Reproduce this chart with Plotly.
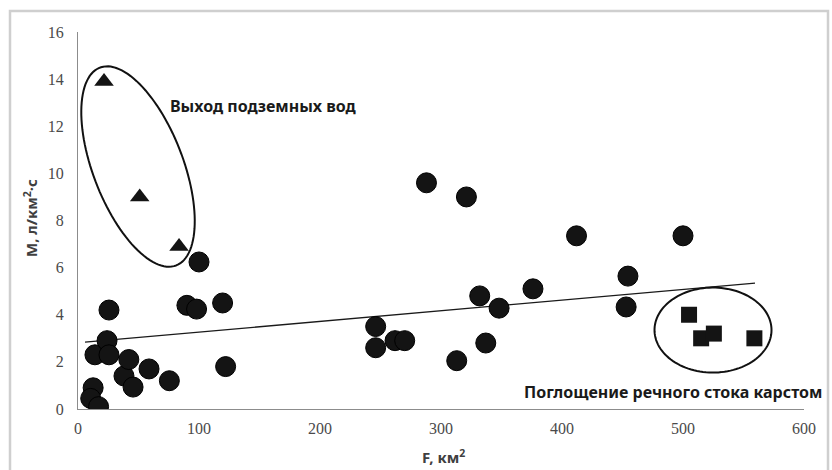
import numpy as np
import plotly.graph_objects as go

# Catchment area F (km²) and specific runoff M (l/(km²·s))
circle_x = [12.5, 10.5, 17, 14, 24, 25.6, 25.6, 38, 42, 45.5, 58.7, 75.5,
            90, 98, 100, 119.5, 122, 246, 246, 262, 270, 288, 313, 321,
            332, 337, 348, 376, 412, 453, 454.5, 500]
circle_y = [0.9, 0.45, 0.1, 2.3, 2.9, 2.3, 4.2, 1.4, 2.1, 0.93, 1.7, 1.2,
            4.4, 4.24, 6.24, 4.5, 1.8, 3.5, 2.6, 2.9, 2.9, 9.6, 2.05, 9.0,
            4.8, 2.8, 4.28, 5.1, 7.35, 4.33, 5.64, 7.35]

# Groundwater outflow points
triangle_x = [21.5, 51, 83.5]
triangle_y = [13.9, 9.0, 6.9]

# Karst absorption points
square_x = [505, 515, 525.5, 559]
square_y = [4.0, 3.0, 3.2, 3.0]

# Linear trend
trend_slope = 0.00453
trend_intercept = 2.81
trend_x = [5.8, 559.5]

x_ticks = [0, 100, 200, 300, 400, 500, 600]
y_ticks = [0, 2, 4, 6, 8, 10, 12, 14, 16]

W, H = 832, 470
ML, MR, MT, MB = 78, 28, 32, 61
X_RANGE = (0, 600)
Y_RANGE = (0, 16)
PW, PH = W - ML - MR, H - MT - MB
px_x = PW / (X_RANGE[1] - X_RANGE[0])
px_y = PH / (Y_RANGE[1] - Y_RANGE[0])


def ellipse_path(cx, cy, a_px, b_px, angle_deg, n=120):
    """Ellipse centred at data (cx, cy), semi-axes in screen pixels,
    major axis rotated clockwise on screen by angle_deg."""
    t = np.linspace(0, 2 * np.pi, n)
    phi = np.deg2rad(angle_deg)
    dx = a_px * np.cos(t) * np.cos(phi) - b_px * np.sin(t) * np.sin(phi)
    dy = a_px * np.cos(t) * np.sin(phi) + b_px * np.sin(t) * np.cos(phi)
    xs = cx + dx / px_x
    ys = cy - dy / px_y
    pts = [f"{x:.3f},{y:.4f}" for x, y in zip(xs, ys)]
    return "M " + " L ".join(pts) + " Z"


mark_color = "#141414"

fig = go.Figure()

ty = [trend_intercept + trend_slope * x for x in trend_x]
fig.add_trace(go.Scatter(x=trend_x, y=ty, mode="lines",
                         line=dict(color="#1a1a1a", width=1.3),
                         hoverinfo="skip", showlegend=False))

fig.add_trace(go.Scatter(x=circle_x, y=circle_y, mode="markers",
                         marker=dict(symbol="circle", size=20, color=mark_color,
                                     line=dict(color="#000", width=1)),
                         showlegend=False))
fig.add_trace(go.Scatter(x=triangle_x, y=triangle_y, mode="markers",
                         marker=dict(symbol="triangle-up", size=17, color=mark_color,
                                     line=dict(width=0)),
                         showlegend=False))
fig.add_trace(go.Scatter(x=square_x, y=square_y, mode="markers",
                         marker=dict(symbol="square", size=16, color=mark_color,
                                     line=dict(width=0)),
                         showlegend=False))

shapes = [
    dict(type="path", xref="x", yref="y",
         path=ellipse_path(49.6, 10.29, 106, 45, 68.9),
         line=dict(color="#111", width=2)),
    dict(type="path", xref="x", yref="y",
         path=ellipse_path(524.8, 3.35, 58.5, 42.5, 0),
         line=dict(color="#111", width=2)),
    dict(type="rect", xref="paper", yref="paper",
         x0=-(ML - 10) / PW, x1=1 + (MR - 4) / PW,
         y0=-(MB + 10) / PH, y1=1 + (MT - 11) / PH,
         line=dict(color="#cfcfcf", width=2.5), layer="below"),
]

label_font = dict(family="Noto Sans", size=16, color="#1a1a1a")
title_font = dict(family="Noto Sans", size=15, color="#404040")
annotations = [
    dict(x=153, y=12.86, xref="x", yref="y", text="<b>Выход подземных вод</b>",
         showarrow=False, font=label_font),
    dict(x=491.7, y=0.72, xref="x", yref="y",
         text="<b>Поглощение речного стока карстом</b>",
         showarrow=False, font=label_font),
    dict(x=-(ML - 30) / PW, y=(H - MB - 218) / PH,
         xref="paper", yref="paper", xanchor="center", yanchor="middle",
         text="<b>M, л/км<sup>2</sup>·с</b>",
         textangle=-90, showarrow=False, font=title_font),
    dict(x=(443 - ML) / PW, y=-(456 - (H - MB)) / PH,
         xref="paper", yref="paper", xanchor="center", yanchor="middle",
         text="<b>F, км<sup>2</sup></b>",
         showarrow=False, font=title_font),
]

tick_font = dict(family="Liberation Serif", size=16, color="#4a4a4a")
fig.update_layout(
    width=W, height=H,
    margin=dict(l=ML, r=MR, t=MT, b=MB),
    paper_bgcolor="white", plot_bgcolor="white",
    shapes=shapes, annotations=annotations,
    xaxis=dict(range=list(X_RANGE), tickvals=x_ticks, showgrid=False,
               zeroline=False, showline=True, linecolor="#8c8c8c", linewidth=1,
               ticks="outside", ticklen=5, tickcolor="rgba(0,0,0,0)",
               tickfont=tick_font),
    yaxis=dict(range=list(Y_RANGE), tickvals=y_ticks, showgrid=False,
               zeroline=False, showline=True, linecolor="#8c8c8c", linewidth=1,
               ticks="outside", ticklen=10, tickcolor="rgba(0,0,0,0)",
               tickfont=tick_font),
)

fig.write_html("out.html")
